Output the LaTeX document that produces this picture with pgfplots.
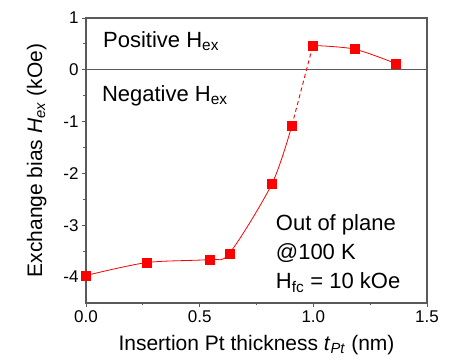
\documentclass[border=0pt]{standalone}
\usepackage{pgfplots}
\pgfplotsset{compat=1.18}
\usepackage{fontspec}
\setmainfont{Liberation Sans}
\definecolor{axgray}{RGB}{90,90,90}
\begin{document}
\begin{tikzpicture}[x=1pt,y=1pt]
\path[use as bounding box] (0,0) rectangle (451,361);
\begin{axis}[
  at={(86pt,58pt)}, anchor=south west,
  scale only axis, width=341pt, height=285pt,
  xmin=0, xmax=1.5, ymin=-4.5, ymax=1,
  xtick={0,0.5,1,1.5}, ytick={-4,-3,-2,-1,0,1},
  minor x tick num=1, minor y tick num=1,
  xticklabel style={/pgf/number format/.cd,fixed,fixed zerofill,precision=1},
  /pgf/number format/assume math mode=true,
  tick align=outside, axis line style={axgray, line width=1.2pt},
  major tick length=4pt, minor tick length=2.5pt,
  tick style={axgray, line width=0.9pt},
  xtick pos=lower, ytick pos=left,
  ticklabel style={font=\fontsize{17}{19}\selectfont, text=black},
  xlabel={Insertion Pt thickness \textit{t}\textsubscript{\textit{Pt}} (nm)},
  ylabel={Exchange bias \textit{H}\textsubscript{\textit{ex}} (kOe)},
  label style={font=\fontsize{21}{24}\selectfont},
  xlabel style={yshift=-6pt},
  ylabel style={yshift=10pt},
  clip=false,
]
\addplot[axgray, line width=1.2pt] coordinates {(0,0) (1.5,0)};
\addplot[axgray, line width=1.2pt] coordinates {(0,1) (1.5,1) (1.5,-4.5)};
\addplot[red, line width=0.8pt, smooth, tension=0.5] coordinates {
(0,-3.97) (0.267,-3.72) (0.543,-3.66) (0.631,-3.54) (0.818,-2.2) (0.906,-1.07)};
\addplot[red, line width=0.9pt, dash pattern=on 4pt off 3pt] coordinates {(0.906,-1.07) (0.998,0.47)};
\addplot[red, line width=0.8pt, smooth, tension=0.5] coordinates {
(0.998,0.47) (1.18,0.40) (1.364,0.12)};
\addplot[only marks, mark=square*, mark size=4.5pt, red] coordinates {
(0,-3.97) (0.267,-3.72) (0.543,-3.66) (0.631,-3.54) (0.818,-2.2) (0.906,-1.07)
(0.998,0.47) (1.18,0.40) (1.364,0.12)};
\node[anchor=west, font=\fontsize{22}{26}\selectfont] at (axis cs:0.06,0.55) {Positive H\textsubscript{ex}};
\node[anchor=west, font=\fontsize{22}{26}\selectfont] at (axis cs:0.055,-0.5) {Negative H\textsubscript{ex}};
\node[anchor=west, align=left, font=\fontsize{22}{29}\selectfont] at (axis cs:0.82,-3.55) {Out of plane\\@100 K\\H\textsubscript{fc} = 10 kOe};
\end{axis}
\end{tikzpicture}
\end{document}
